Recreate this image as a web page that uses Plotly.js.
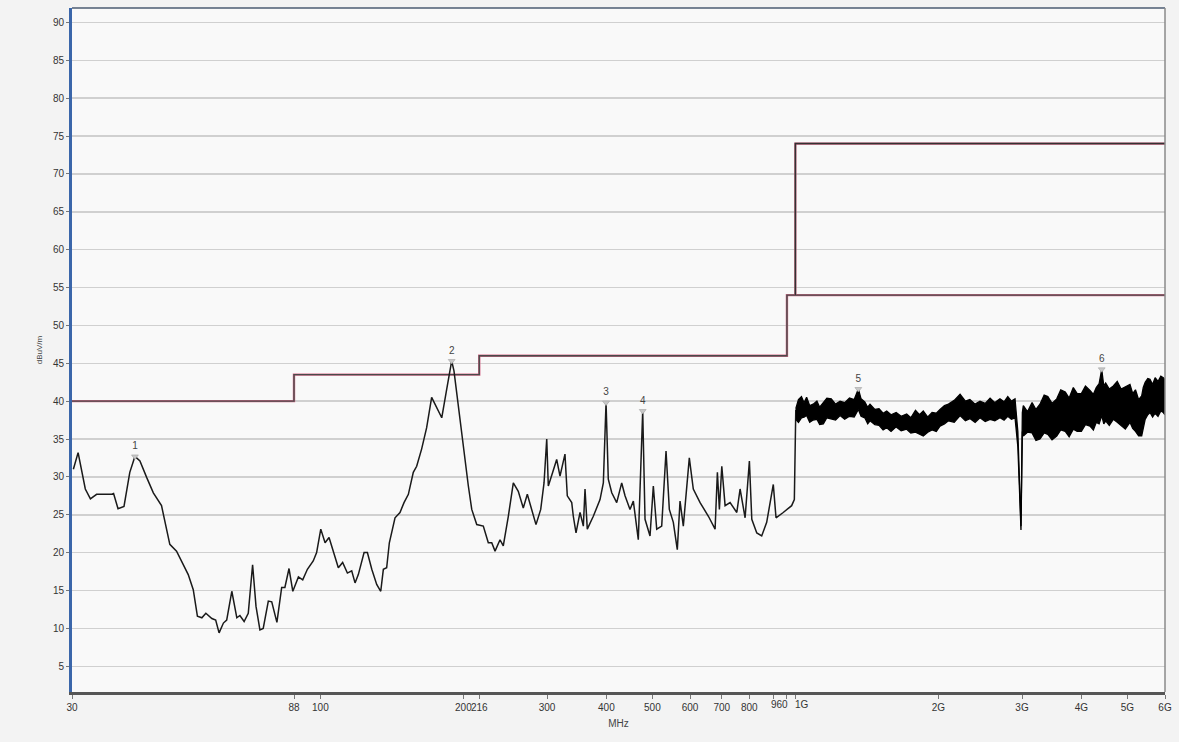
<!DOCTYPE html>
<html>
<head>
<meta charset="utf-8">
<script src="https://cdn.plot.ly/plotly-3.0.1.min.js"></script>
<style>html,body{margin:0;padding:0;background:#f3f3f3;}#chart{width:1179px;height:742px;}</style>
</head>
<body>
<div id="chart"></div>
<script>
// Measured spectrum, 30 MHz - 1 GHz (MHz, dBuV/m)
const specFreq = [30.2,30.9,32.0,32.8,33.8,36.4,36.7,37.5,38.6,39.7,40.7,41.7,43.1,44.5,46.3,48.2,49.8,52.7,54.0,55.1,56.3,57.4,59.1,60.2,61.2,62.5,63.5,65.1,66.7,67.7,69.1,70.5,72.0,73.2,74.6,75.8,77.7,79.0,81.0,82.9,84.2,85.9,87.5,89.9,91.8,93.9,96.6,98.2,100.2,102.3,104.3,107.4,109.1,111.4,114.0,116.4,118.3,120.2,123.6,125.6,128.3,131.4,134.0,135.7,137.9,139.7,141.3,143.6,147.1,150.0,153.2,156.9,159.5,163.4,167.4,171.5,174.3,180.1,184.5,189.0,191.1,194.2,199.9,204.9,208.3,213.4,220.3,225.7,229.5,233.2,238.9,242.7,248.7,254.8,261.0,267.4,272.7,278.5,284.4,291.0,295.7,299.6,301.9,308.4,314.4,319.5,327.3,331.0,338.2,340.8,345.3,352.1,357.8,360.7,364.7,375.5,387.9,394.2,399.4,403.8,410.6,420.6,430.9,437.9,448.6,455.9,467.0,477.1,482.5,494.3,502.3,510.6,523.1,534.2,542.8,553.4,564.2,571.7,580.9,598.0,609.7,630.1,656.0,677.6,685.2,691.9,700.0,711.3,728.7,752.8,764.9,783.7,800.2,809.6,829.4,849.4,870.2,898.5,910.4,942.8,982.1,995,1002];
const specLevel = [31.0,33.2,28.4,27.1,27.7,27.7,27.8,25.8,26.1,30.6,32.7,32.1,29.9,27.9,26.2,21.1,20.2,17.1,15.1,11.6,11.4,12.0,11.3,11.1,9.4,10.7,11.1,14.9,11.4,11.7,10.9,12.0,18.4,12.9,9.8,10.0,13.6,13.5,10.8,15.4,15.4,17.9,14.9,16.8,16.4,17.8,18.9,20.0,23.1,21.3,22.0,19.3,18.0,18.7,17.3,17.6,16.0,17.1,20.0,20.0,17.8,15.8,14.9,17.8,18.0,21.3,22.8,24.6,25.3,26.6,27.7,30.6,31.4,33.7,36.5,40.5,39.6,37.8,41.6,45.3,44.0,40.3,34.1,28.8,25.7,23.7,23.5,21.3,21.3,20.2,21.7,20.9,24.8,29.2,28.1,25.9,27.7,25.7,23.7,25.7,29.2,35.0,28.8,30.6,32.3,30.1,33.0,27.5,26.6,24.8,22.6,25.3,23.5,28.4,23.1,24.8,27.0,29.2,39.8,29.7,27.9,26.6,29.2,27.5,25.7,26.8,21.7,38.7,24.4,22.2,28.8,23.1,23.5,33.4,25.7,24.0,20.4,26.8,23.5,32.5,28.4,26.6,24.8,23.1,30.6,25.7,31.4,26.2,26.6,25.3,28.4,24.6,32.1,24.4,22.6,22.2,24.0,29.0,24.6,25.3,26.2,27.0,38.9];

// Measured spectrum 1 - 6 GHz: noise band envelopes (MHz, dBuV/m)
const bandFreq = [
  1002,1015,1030,1043,1056,1072,1090,1110,1125,1145,
  1165,1190,1215,1242,1270,1300,1330,1357,1375,1400,
  1420,1436,1470,1500,1530,1557,1590,1630,1670,1715,
  1750,1790,1825,1859,1900,1940,1980,2016,2060,2100,
  2160,2222,2280,2330,2390,2447,2510,2570,2630,2696,
  2750,2800,2850,2900,2940,2985,3005,3019,3080,3150,
  3210,3273,3340,3400,3470,3550,3620,3700,3770,3847,
  3920,4000,4080,4171,4240,4300,4360,4415,4460,4500,
  4580,4670,4760,4850,4950,5063,5130,5200,5280,5359,
  5400,5450,5520,5579,5650,5720,5800,5880,5951,6000];
const bandUpper = [
  39.0,40.2,40.6,39.8,40.5,39.4,39.6,40.0,39.2,39.8,
  40.4,40.3,39.6,40.0,39.8,40.4,40.2,41.6,40.3,39.9,
  39.2,39.6,38.9,39.0,38.4,38.7,38.2,38.5,38.0,38.3,
  37.8,38.8,38.2,38.7,37.9,38.5,38.4,38.9,39.4,39.6,
  40.1,40.9,40.0,40.2,39.6,40.0,39.7,40.4,39.8,40.3,
  39.9,40.6,40.0,40.3,36.0,23.5,38.5,39.4,38.6,39.8,
  38.9,39.6,40.8,40.6,39.7,40.3,41.5,41.2,40.4,41.8,
  41.0,41.0,42.0,41.4,40.9,41.8,42.3,44.2,42.0,42.4,
  41.6,42.0,42.6,41.6,41.9,42.2,41.0,41.5,40.2,40.7,
  41.8,42.5,43.0,42.9,42.2,43.1,42.6,43.3,43.1,42.8];
const bandLower = [
  37.6,37.2,37.8,37.9,38.1,37.2,37.5,37.6,36.9,37.0,
  37.8,37.6,37.5,38.1,37.6,38.0,37.9,38.9,38.0,37.8,
  37.0,37.4,36.9,36.8,36.2,36.5,36.0,36.6,36.1,36.3,
  35.8,35.9,35.6,35.4,35.9,36.2,36.0,36.7,37.0,37.4,
  37.2,38.1,37.4,37.7,37.2,37.8,37.3,37.6,37.4,37.8,
  37.5,38.0,37.6,37.8,34.0,23.0,36.0,35.4,35.9,35.8,
  34.8,35.0,35.8,35.6,34.9,35.4,36.2,36.0,35.3,36.3,
  36.0,36.0,36.9,36.7,36.2,37.2,37.0,38.1,37.0,37.4,
  36.8,37.6,37.2,36.8,36.3,37.2,36.4,36.0,35.4,35.4,
  36.6,37.6,38.2,38.5,37.9,38.4,38.0,38.7,38.5,38.2];

// Limit lines
const limitFreq = [30,88,88,216,216,960,960,6000];
const limitLevel = [40,40,43.5,43.5,46,46,54,54];
const peakLimitFreq = [1000,1000,6000];
const peakLimitLevel = [54,74,74];

// Peak markers
const markerFreq = [40.7,189.0,399.4,477.1,1357,4415];
const markerLevel = [32.7,45.3,39.8,38.7,41.6,44.2];
const markerLabel = ['1','2','3','4','5','6'];

// Axis ticks
const xTickVals = [30,88,100,200,216,300,400,500,600,700,800,900,960,1000,2000,3000,4000,5000,6000];
const xTickText = ['30','88','100','200','216','300','400','500','600','700','800','','','','2G','3G','4G','5G','6G'];
const yTickVals = [5,10,15,20,25,30,35,40,45,50,55,60,65,70,75,80,85,90];
// Two crowded tick labels placed beside their ticks
const crowdedTickVals = [960, 1000];
const crowdedTickText = ['960', '1G'];

const font = 'Liberation Sans, Arial, sans-serif';

const traces = [
  {x: limitFreq, y: limitLevel, mode:'lines', line:{color:'#d36a88', width:2.4}, hoverinfo:'skip'},
  {x: limitFreq, y: limitLevel, mode:'lines', line:{color:'#4a4a4a', width:1.4}, hoverinfo:'skip'},
  {x: peakLimitFreq, y: peakLimitLevel, mode:'lines', line:{color:'#c05a76', width:2.2}, hoverinfo:'skip'},
  {x: peakLimitFreq, y: peakLimitLevel, mode:'lines', line:{color:'#333333', width:1.5}, hoverinfo:'skip'},
  {x: specFreq, y: specLevel, mode:'lines', line:{color:'#1a1a1a', width:1.5}, hoverinfo:'skip'},
  {x: bandFreq, y: bandLower, mode:'lines', line:{color:'#000', width:1.3}, hoverinfo:'skip'},
  {x: bandFreq, y: bandUpper, mode:'lines', fill:'tonexty', fillcolor:'#000', line:{color:'#000', width:1.3}, hoverinfo:'skip'},
  {x: markerFreq, y: markerLevel, mode:'markers+text', text: markerLabel, textposition:'top center',
   textfont:{family:font, size:10, color:'#444'},
   marker:{symbol:'triangle-down', size:6, color:'#c8c8c8', line:{color:'#999', width:0.5}}, hoverinfo:'skip', cliponaxis:false}
];

const annotations = crowdedTickVals.map((v, i) => ({
  x: Math.log10(v), xref:'x', y:0, yref:'paper',
  text: crowdedTickText[i], showarrow:false,
  xanchor: i === 0 ? 'right' : 'left', yanchor:'top',
  xshift: i === 0 ? 3 : -2, yshift:-5,
  font:{family:font, size:10, color:'#333'}
}));

const layout = {
  width:1179, height:742,
  margin:{l:72, r:14, t:8, b:50},
  paper_bgcolor:'#f3f3f3',
  plot_bgcolor:'#f9f9f9',
  showlegend:false,
  font:{family:font, color:'#333'},
  xaxis:{
    type:'log', range:[Math.log10(30), Math.log10(6000)],
    tickvals:xTickVals, ticktext:xTickText, tickangle:0,
    ticks:'outside', ticklen:4, tickcolor:'#777', tickwidth:1,
    showgrid:false, zeroline:false,
    showline:true, linecolor:'#555', linewidth:2.5,
    tickfont:{family:font, size:10, color:'#333'},
    title:{text:'MHz', font:{family:font, size:10, color:'#444'}, standoff:9}
  },
  yaxis:{
    range:[1.6, 91.9],
    tickvals:yTickVals,
    ticks:'outside', ticklen:3, tickcolor:'#777',
    showgrid:true, gridcolor:'#d0d0d0', gridwidth:1.5,
    zeroline:false,
    showline:true, linecolor:'#3a66aa', linewidth:3,
    tickfont:{family:font, size:10, color:'#333'},
    title:{text:'dBuV/m', font:{family:font, size:8, color:'#444'}, standoff:10}
  },
  annotations: annotations,
  shapes:[
    {type:'line', xref:'paper', yref:'paper', x0:0, x1:1, y0:1, y1:1, line:{color:'#4b5b72', width:1.5}},
    {type:'line', xref:'paper', yref:'paper', x0:1, x1:1, y0:0, y1:1, line:{color:'#8a8a8a', width:1.5}}
  ]
};

Plotly.newPlot('chart', traces, layout, {staticPlot:true, displayModeBar:false});
</script>
</body>
</html>
